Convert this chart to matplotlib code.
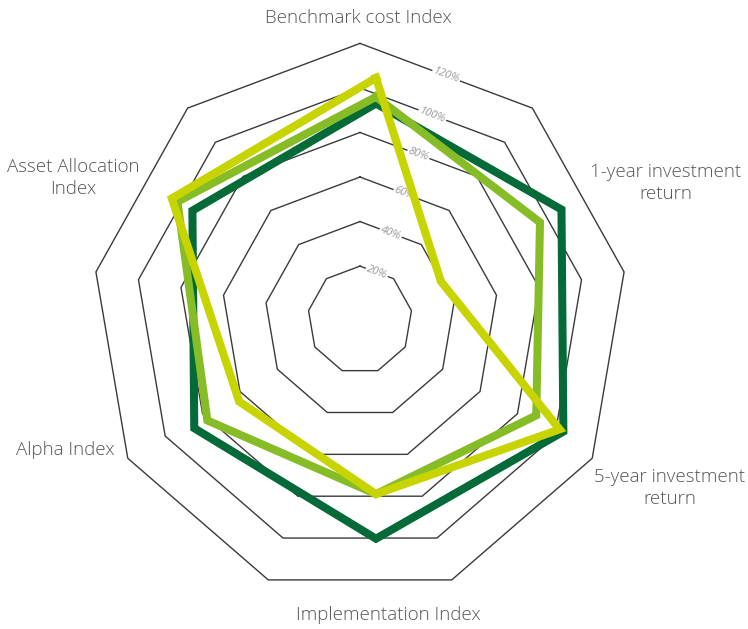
import numpy as np
import matplotlib
matplotlib.use("Agg")
import matplotlib.pyplot as plt

# ---- data ----
categories = ["Benchmark cost Index", "1-year investment\nreturn",
              "5-year investment\nreturn", "Implementation Index",
              "Alpha Index", "Asset Allocation\nIndex"]
series_dark = [93, 95, 96, 94, 93, 94]
series_mid = [96, 83.5, 81.5, 74, 86, 102]
series_lime = [104.5, 30.5, 94, 74, 69, 105]
ring_values = [20, 40, 60, 80, 100, 120]
ring_labels = ["20%", "40%", "60%", "80%", "100%", "120%"]

# ---- style / layout ----
W, H, DPI = 748, 629, 100
CX, CY = 360, 320          # grid centre (pixels)
SERIES_CX = 376            # series centre (pixels)
KX, KY = 2.159, 2.227      # pixels per radial unit
R_OFF = 4.2                # radial offset of the value axis
N_GRID = 9
C_DARK, C_MID, C_LIME = "#046A38", "#86BC25", "#C8D400"
TXT = "#555555"

fig = plt.figure(figsize=(W / DPI, H / DPI), dpi=DPI)
ax = fig.add_axes([0, 0, 1, 1])
ax.set_xlim(-CX / KX, (W - CX) / KX)
ax.set_ylim(-(H - CY) / KY, CY / KY)
ax.axis("off")

def poly(values, n, x0=0.0):
    th = np.arange(n) * 2 * np.pi / n
    r = np.asarray(values, float) + R_OFF
    x = x0 + r * np.sin(th)
    y = r * np.cos(th)
    return np.append(x, x[0]), np.append(y, y[0])

# grid rings
for v, lab in zip(ring_values, ring_labels):
    x, y = poly([v] * N_GRID, N_GRID)
    ax.plot(x, y, color="#3a3a3a", lw=1.0, zorder=1)
    mx, my = (x[0] + x[1]) / 2, (y[0] + y[1]) / 2
    p0 = ax.transData.transform((x[0], y[0]))
    p1 = ax.transData.transform((x[1], y[1]))
    ang = np.degrees(np.arctan2(p1[1] - p0[1], p1[0] - p0[0]))
    ax.text(mx, my, lab, rotation=ang, rotation_mode="anchor",
            ha="center", va="center", fontsize=8, color="#9a9a9a",
            family=["Open Sans", "DejaVu Sans"], fontstyle="italic",
            bbox=dict(boxstyle="square,pad=0.1", fc="white", ec="none"),
            zorder=2)

# series
x0 = (SERIES_CX - CX) / KX
for vals, col in [(series_dark, C_DARK), (series_mid, C_MID), (series_lime, C_LIME)]:
    x, y = poly(vals, len(categories), x0)
    ax.plot(x, y, color=col, lw=5.8, solid_joinstyle="miter", zorder=3)

# category labels (pixel positions of label centres)
label_pos = [(358, 18), (666, 183), (670, 488), (388, 615), (65, 450), (73, 178)]
for lab, (px, py) in zip(categories, label_pos):
    fig.text(px / W, 1 - py / H, lab, ha="center", va="center",
             fontsize=13.5, color=TXT, family=["Open Sans", "DejaVu Sans"],
             fontweight="light", linespacing=1.3)

fig.savefig("out.png", dpi=DPI)
